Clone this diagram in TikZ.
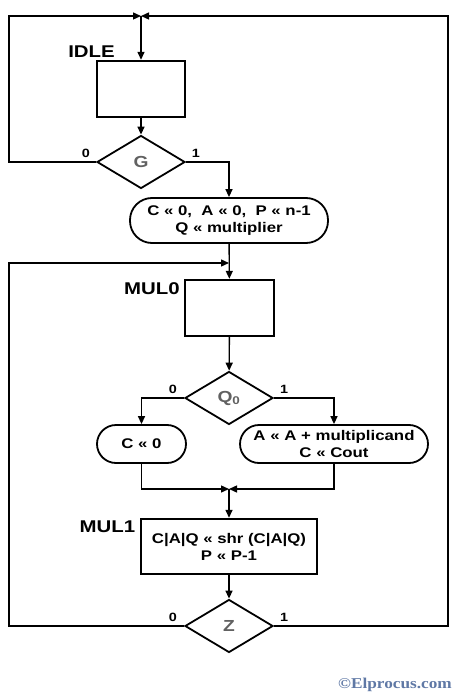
\documentclass[tikz,border=0pt]{standalone}
\usepackage{fontspec}
\setmainfont{Liberation Sans}[FakeStretch=1.2]
\newfontfamily\markfont{Liberation Serif}[FakeStretch=1.15]
\usepackage{tikz}
\usetikzlibrary{arrows,arrows.meta,shapes.geometric,positioning,calc}
\definecolor{markblue}{RGB}{95,120,165}

\begin{document}
\begin{tikzpicture}[x=1pt,y=-1pt,>={Triangle[length=8pt,width=7pt]}]
    \tikzset{
        box/.style={draw, line width=2.4pt, minimum width=88pt, minimum height=56pt, inner sep=0pt, align=center, font={\fontsize{14}{17}\selectfont\bfseries}},
        oval/.style={draw, line width=1.8pt, inner sep=0pt, align=center, font={\fontsize{14}{17}\selectfont\bfseries}},
        test/.style={draw, diamond, line width=1.8pt, minimum width=88pt, minimum height=53pt, inner sep=0pt, text=black!62, font={\fontsize{16}{18}\selectfont\bfseries}},
        tag/.style={font={\fontsize{17}{20}\selectfont\bfseries}},
        bit/.style={font={\fontsize{12}{14}\selectfont\bfseries}},
        a/.style={->, line width=1.4pt},
    }
        \useasboundingbox (0,0) rectangle (474,700);

        \coordinate (top) at (141,16);
        \coordinate (tl) at (9,16);
        \coordinate (tr) at (448,16);
        \coordinate (lb) at (9,263);
        \coordinate (loop) at (229,263);
        \coordinate (merge) at (229,489);

        \node[box] (idle) at (141,89) {};
        \node[test] (g) at (141,162) {G};
        \node[oval, minimum width=198pt, minimum height=45pt, rounded corners=22pt] (init) at (229,220.5) {C « 0,\ \ A « 0,\ \ P « n-1\\Q « multiplier};
        \node[box, minimum width=89pt] (mul0) at (229.5,308) {};
        \node[test] (q0) at (229,398) {Q\textsubscript{0}};
        \node[oval, minimum width=89pt, minimum height=38pt, rounded corners=19pt] (czero) at (141.5,444) {C « 0};
        \node[oval, minimum width=188pt, minimum height=38pt, rounded corners=19pt] (cadd) at (334,444) {A « A + multiplicand\\C « Cout};
        \node[box, minimum width=176pt, minimum height=55pt] (mul1) at (229,546.5) {C|A|Q « shr (C|A|Q)\\P « P-1};
        \node[test] (z) at (229,626) {Z};

        \node[tag] (idletag) at (91.5,52) {IDLE};
        \node[tag] (mul0tag) at (152,289) {MUL0};
        \node[tag] (mul1tag) at (107.5,527) {MUL1};

        \node[bit] (g0) at (86,153) {0};
        \node[bit] (g1) at (196,153) {1};
        \node[bit] (q00) at (173,389) {0};
        \node[bit] (q01) at (284,389) {1};
        \node[bit] (z0) at (173,617) {0};
        \node[bit] (z1) at (284,617) {1};

        \draw [a] (top) -- (idle);
        \draw [a] (idle) -- (g);
        \draw [a] (g.west) -| (tl) -- (top);
        \draw [a] (g.east) -| (init.north);
        \draw [a] (init) -- (mul0);
        \draw [a] (mul0) -- (q0);
        \draw [a] (q0.west) -| (czero.north);
        \draw [a] (q0.east) -| (cadd.north);
        \draw [a] (czero.south) |- (merge);
        \draw [a] (cadd.south) |- (merge);
        \draw [a] (merge) -- (mul1);
        \draw [a] (mul1) -- (z);
        \draw [a] (z.west) -| (lb) -- (loop);
        \draw [a] (z.east) -| (tr) -- (top);

        \node[text=markblue, font={\markfont\fontsize{15}{17}\selectfont\bfseries}] (mark) at (395,685) {©Elprocus.com};
    \end{tikzpicture}
\end{document}
